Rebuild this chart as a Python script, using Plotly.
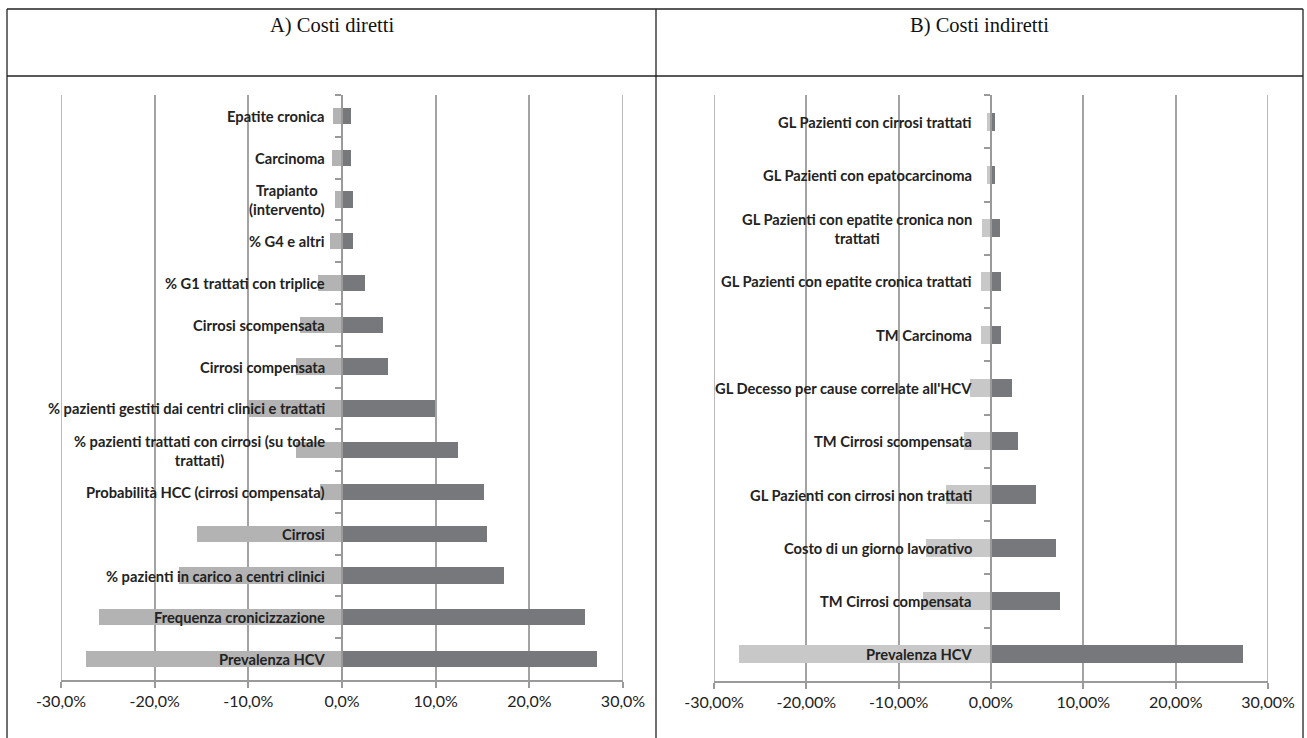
import plotly.graph_objects as go

W, H = 1307, 738

# ---------------- data ----------------
left_categories = [
    "Epatite cronica", "Carcinoma", "Trapianto<br>(intervento)", "% G4 e altri",
    "% G1 trattati con triplice", "Cirrosi scompensata", "Cirrosi compensata",
    "% pazienti gestiti dai centri clinici e trattati",
    "% pazienti trattati con cirrosi (su totale<br>trattati)",
    "Probabilità HCC (cirrosi compensata)", "Cirrosi",
    "% pazienti in carico a centri clinici", "Frequenza cronicizzazione",
    "Prevalenza HCV",
]
left_low = [-1.0, -1.1, -0.8, -1.3, -2.6, -4.5, -4.9, -9.9, -4.9, -2.3, -15.5, -17.4, -25.9, -27.3]
left_high = [1.0, 1.0, 1.2, 1.2, 2.5, 4.4, 4.9, 9.9, 12.4, 15.2, 15.5, 17.3, 25.9, 27.2]

right_categories = [
    "GL Pazienti con cirrosi trattati", "GL Pazienti con epatocarcinoma",
    "GL Pazienti con epatite cronica non<br>trattati",
    "GL Pazienti con epatite cronica trattati", "TM Carcinoma",
    "GL Decesso per cause correlate all'HCV", "TM Cirrosi scompensata",
    "GL Pazienti con cirrosi non trattati", "Costo di un giorno lavorativo",
    "TM Cirrosi compensata", "Prevalenza HCV",
]
right_low = [-0.4, -0.4, -1.0, -1.1, -1.1, -2.3, -2.9, -4.9, -7.0, -7.4, -27.3]
right_high = [0.4, 0.4, 1.0, 1.05, 1.1, 2.3, 2.9, 4.9, 7.0, 7.5, 27.3]

tick_vals = [-30, -20, -10, 0, 10, 20, 30]
left_tick_text = ["-30,0%", "-20,0%", "-10,0%", "0,0%", "10,0%", "20,0%", "30,0%"]
right_tick_text = ["-30,00%", "-20,00%", "-10,00%", "0,00%", "10,00%", "20,00%", "30,00%"]

titles = ["A) Costi diretti", "B) Costi indiretti"]

# ---------------- style ----------------
DARK = "#77787b"
LIGHT_L = "#b3b3b3"
LIGHT_R = "#c8c8c8"
GRID = "#a3a3a3"
AX = "#9a9a9a"
TXT = "#222222"
LABEL_FONT = dict(family="Lato", size=14.7, color=TXT)
TICK_FONT = dict(family="Lato", size=16, color=TXT)


def px(x):
    return x / W


def py(y):
    return 1 - y / H


xdom_l = [px(61), px(623)]
xdom_r = [px(714), px(1268)]
ydom_l = [py(680), py(95)]
ydom_r = [py(681), py(95)]

fig = go.Figure()

fig.add_trace(go.Bar(y=left_categories, x=left_low, orientation="h", marker=dict(color=LIGHT_L, line=dict(width=0)),
                     width=0.39, xaxis="x", yaxis="y", showlegend=False, hoverinfo="skip"))
fig.add_trace(go.Bar(y=left_categories, x=left_high, orientation="h", marker=dict(color=DARK, line=dict(width=0)),
                     width=0.39, xaxis="x", yaxis="y", showlegend=False, hoverinfo="skip"))
fig.add_trace(go.Bar(y=right_categories, x=right_low, orientation="h", marker=dict(color=LIGHT_R, line=dict(width=0)),
                     width=0.34, xaxis="x2", yaxis="y2", showlegend=False, hoverinfo="skip"))
fig.add_trace(go.Bar(y=right_categories, x=right_high, orientation="h", marker=dict(color=DARK, line=dict(width=0)),
                     width=0.34, xaxis="x2", yaxis="y2", showlegend=False, hoverinfo="skip"))


def xaxis(dom, anchor, ticktext):
    return dict(domain=dom, anchor=anchor, range=[-30, 30], tickmode="array", tickvals=tick_vals,
                ticktext=ticktext, showgrid=True, gridcolor=GRID, gridwidth=1.5, zeroline=False,
                showline=True, linecolor=AX, linewidth=1.5, ticks="outside", ticklen=6, tickwidth=1.5,
                tickcolor=AX, tickfont=TICK_FONT, fixedrange=True, automargin=False)


def yaxis(dom, xdom, cats):
    return dict(domain=dom, anchor="free", position=(xdom[0] + xdom[1]) / 2,
                type="category", categoryorder="array", categoryarray=cats, autorange="reversed",
                showline=True, linecolor=AX, linewidth=1.5, ticks="outside", tickson="boundaries",
                ticklen=6, tickwidth=1.5, tickcolor=AX, showticklabels=False, showgrid=False,
                zeroline=False, fixedrange=True, automargin=False)


annotations = []
for cats, xr, yr, shift in [(left_categories, "x", "y", -15), (right_categories, "x2", "y2", -17)]:
    for c in cats:
        annotations.append(dict(x=0, y=c, xref=xr, yref=yr, xanchor="right", yanchor="middle",
                                xshift=shift, text="<b>" + c + "</b>", showarrow=False, align="center",
                                font=LABEL_FONT))

for t, cx in zip(titles, [331.5, 979.5]):
    annotations.append(dict(x=px(cx), y=py(25), xref="paper", yref="paper", xanchor="center",
                            yanchor="middle", text=t, showarrow=False,
                            font=dict(family="Liberation Serif", size=20.5, color="#111111")))

frame = dict(color="#222222", width=1.3)
shapes = [
    dict(type="line", xref="paper", yref="paper", x0=px(7), x1=px(1303), y0=py(9), y1=py(9), line=frame),
    dict(type="line", xref="paper", yref="paper", x0=px(7), x1=px(1303), y0=py(76), y1=py(76), line=frame),
    dict(type="line", xref="paper", yref="paper", x0=px(7), x1=px(7), y0=py(9), y1=0, line=frame),
    dict(type="line", xref="paper", yref="paper", x0=px(656), x1=px(656), y0=py(9), y1=0, line=frame),
    dict(type="line", xref="paper", yref="paper", x0=px(1303), x1=px(1303), y0=py(9), y1=0, line=frame),
]
# gridlines at the range edges (plotly omits them)
for xr, yr in [("x", "y domain"), ("x2", "y2 domain")]:
    for v in (tick_vals[0], tick_vals[-1]):
        shapes.append(dict(type="line", xref=xr, yref=yr, x0=v, x1=v, y0=0, y1=1,
                           line=dict(color=GRID, width=1.5), layer="below"))

fig.update_layout(
    width=W, height=H, margin=dict(l=0, r=0, t=0, b=0, autoexpand=False),
    paper_bgcolor="white", plot_bgcolor="white",
    barmode="relative", bargap=0,
    xaxis=xaxis(xdom_l, "y", left_tick_text),
    xaxis2=xaxis(xdom_r, "y2", right_tick_text),
    yaxis=yaxis(ydom_l, xdom_l, left_categories),
    yaxis2=yaxis(ydom_r, xdom_r, right_categories),
    annotations=annotations, shapes=shapes, showlegend=False,
)

fig.write_html("out.html")
